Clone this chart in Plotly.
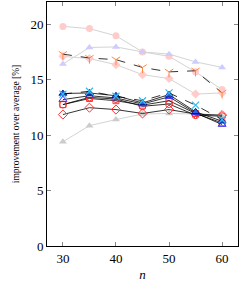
import plotly.graph_objects as go

n = [30, 35, 40, 45, 50, 55, 60]

pink_circles = [19.8, 19.6, 18.95, 17.5, 17.1, 15.7, 14.1]
blue_tri_light = [16.4, 17.9, 17.95, 17.5, 17.3, 16.6, 16.1]
pink_diamonds = [17.1, 16.9, 16.35, 15.45, 15.1, 13.7, 13.8]
orange_tri = [17.3, 16.95, 16.8, 16.1, 15.7, 15.8, 13.8]
gray_tri = [9.4, 10.85, 11.4, 11.9, 11.95, 11.9, 11.7]

cyan_x = [13.7, 13.95, 13.5, 13.1, 13.8, 12.7, 11.4]
blue_tri_filled = [13.75, 13.8, 13.55, 12.9, 13.65, 12.1, 11.25]
blue_tri_open = [13.2, 13.55, 13.35, 12.8, 13.45, 12.0, 10.95]
red_squares = [12.75, 13.3, 13.1, 12.7, 13.1, 11.95, 11.1]
red_circles = [12.75, 13.4, 13.25, 12.6, 12.8, 11.8, 11.7]
red_diamonds = [11.85, 12.47, 12.3, 11.95, 12.3, 11.9, 11.8]

fig = go.Figure()

light_line = dict(color="#d4d4d4", width=1)

def add(y, line, marker):
    fig.add_trace(go.Scatter(x=n, y=y, mode="lines+markers", line=line,
                             marker=marker, showlegend=False))

add(gray_tri, light_line, dict(symbol="triangle-up", size=7, color="#cccccc"))
add(pink_circles, light_line, dict(symbol="circle", size=7, color="#ffcccc"))
add(blue_tri_light, light_line, dict(symbol="triangle-up", size=7, color="#ccccff"))
add(pink_diamonds, light_line, dict(symbol="diamond", size=7, color="#ffcccc"))
add(orange_tri, dict(color="black", width=0.8, dash="dash"),
    dict(symbol="y-down", size=7, line=dict(color="#ff8844", width=1)))

add(red_diamonds, dict(color="black", width=0.8),
    dict(symbol="diamond-open", size=7, color="#ff3333", line=dict(width=1)))
add(red_circles, dict(color="black", width=0.8),
    dict(symbol="circle-open", size=7, color="#ff3333", line=dict(width=1)))
add(red_squares, dict(color="black", width=0.8),
    dict(symbol="square-open", size=6, color="#ff3333", line=dict(width=1)))
add(blue_tri_open, dict(color="black", width=0.8),
    dict(symbol="triangle-up-open", size=7, color="#3333ff", line=dict(width=1)))
add(blue_tri_filled, dict(color="black", width=0.8),
    dict(symbol="triangle-up", size=7, color="#2266dd", line=dict(color="#000088", width=0.8)))
add(cyan_x, dict(color="black", width=0.8, dash="dash"),
    dict(symbol="x-thin-open", size=7, color="#33bbee", line=dict(color="#33bbee", width=1.2)))

font = dict(family="Liberation Serif", size=13, color="black")

fig.update_layout(
    width=240, height=282,
    margin=dict(l=47, r=1, t=1, b=35),
    plot_bgcolor="white", paper_bgcolor="white",
    font=font,
    xaxis=dict(range=[27, 63], tickvals=[30, 40, 50, 60], ticks="inside", ticklen=4,
               tickcolor="#888888", showline=True, linecolor="black", linewidth=1,
               mirror="ticks", showgrid=False, zeroline=False,
               title=dict(text="<i>n</i>", standoff=6, font=dict(size=13))),
    yaxis=dict(range=[0, 22], tickvals=[0, 5, 10, 15, 20], ticks="inside", ticklen=4,
               tickcolor="#888888", showline=True, linecolor="black", linewidth=1,
               mirror="ticks", showgrid=False, zeroline=False,
               title=dict(text="improvement over average [%]", standoff=9, font=dict(size=9.5))),
)

fig.write_html("out.html", config={"displayModeBar": False},
               post_script="document.body.style.margin='0';")
